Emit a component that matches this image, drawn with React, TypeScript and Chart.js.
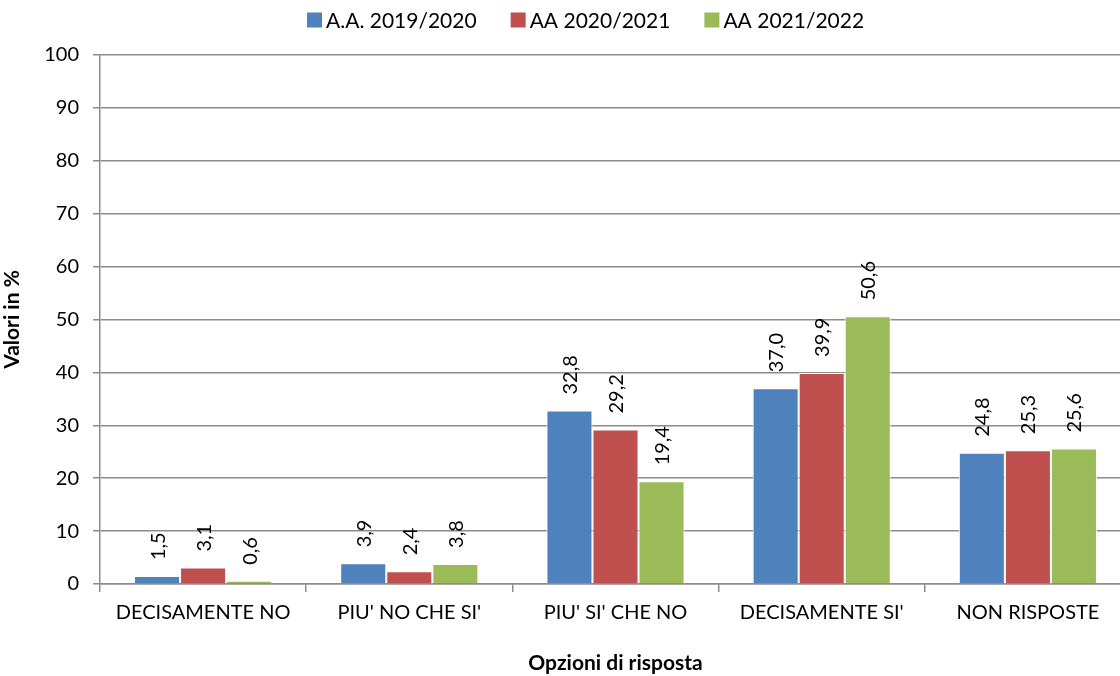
import React, { useEffect, useRef } from "react";
import { Chart, registerables } from "chart.js";

Chart.register(...registerables);

const categories = ["DECISAMENTE NO", "PIU' NO CHE SI'", "PIU' SI' CHE NO", "DECISAMENTE SI'", "NON RISPOSTE"];
const seriesNames = ["A.A. 2019/2020", "AA 2020/2021", "AA 2021/2022"];
const values2019 = [1.5, 3.9, 32.8, 37.0, 24.8];
const values2020 = [3.1, 2.4, 29.2, 39.9, 25.3];
const values2021 = [0.6, 3.8, 19.4, 50.6, 25.6];
const colors = ["#4F81BD", "#C0504D", "#9BBB59"];
const yTicks = [0, 10, 20, 30, 40, 50, 60, 70, 80, 90, 100];

const FONT = "Lato, 'Open Sans', sans-serif";

const labelPlugin = {
  id: "barLabels",
  afterDatasetsDraw(chart: any) {
    const ctx = chart.ctx;
    ctx.save();
    ctx.font = `20px ${FONT}`;
    ctx.fillStyle = "#000";
    ctx.textAlign = "left";
    ctx.textBaseline = "middle";
    chart.data.datasets.forEach((ds: any, i: number) => {
      const meta = chart.getDatasetMeta(i);
      meta.data.forEach((bar: any, j: number) => {
        const v = ds.data[j] as number;
        const txt = v.toFixed(1).replace(".", ",");
        ctx.save();
        ctx.translate(bar.x + 1, bar.y - 16);
        ctx.rotate(-Math.PI / 2);
        ctx.fillText(txt, 0, 0);
        ctx.restore();
      });
    });
    ctx.restore();
  },
};

const legendPlugin = {
  id: "customLegend",
  afterDraw(chart: any) {
    const ctx = chart.ctx;
    ctx.save();
    ctx.font = `21px ${FONT}`;
    ctx.textBaseline = "middle";
    ctx.textAlign = "left";
    const box = 15;
    const gapBoxText = 4;
    const gapItems = 34;
    const widths = seriesNames.map((n) => box + gapBoxText + ctx.measureText(n).width);
    let x = 307;
    const y = 20;
    seriesNames.forEach((n, i) => {
      ctx.fillStyle = colors[i];
      ctx.fillRect(x, y - box / 2, box, box);
      ctx.fillStyle = "#000";
      ctx.fillText(n, x + box + gapBoxText, y + 1);
      x += widths[i] + gapItems;
    });
    ctx.restore();
  },
};

export default function App() {
  const ref = useRef<HTMLCanvasElement | null>(null);
  useEffect(() => {
    if (!ref.current) return;
    const chart = new Chart(ref.current, {
      type: "bar",
      data: {
        labels: categories,
        datasets: [values2019, values2020, values2021].map((d, i) => ({
          label: seriesNames[i],
          data: d,
          backgroundColor: colors[i],
          borderColor: "#ffffff",
          borderWidth: 1,
          categoryPercentage: 0.67,
          barPercentage: 1,
        })),
      },
      options: {
        animation: false,
        responsive: false,
        maintainAspectRatio: false,
        layout: { padding: { top: 55, right: 9, bottom: 0, left: 0 } },
        plugins: {
          legend: { display: false },
          tooltip: { enabled: false },
        },
        scales: {
          x: {
            grid: {
              offset: true,
              drawOnChartArea: false,
              color: "#8c8c8c",
              tickLength: 8,
              lineWidth: 1.5,
            },
            border: { color: "#8c8c8c", width: 1.5 },
            ticks: { color: "#000", font: { size: 20, family: FONT }, padding: 9, maxRotation: 0, autoSkip: false },
            title: {
              display: true,
              text: "Opzioni di risposta",
              color: "#000",
              font: { size: 21, weight: "bold", family: FONT },
              padding: { top: 20, bottom: 0 },
            },
            afterFit(scale: any) {
              scale.height = 92;
            },
          },
          y: {
            min: 0,
            max: 100,
            afterBuildTicks(scale: any) {
              scale.ticks = yTicks.map((v) => ({ value: v }));
            },
            grid: { color: "#8c8c8c", tickLength: 7, lineWidth: 1.5 },
            border: { color: "#8c8c8c", width: 1.5 },
            ticks: { color: "#000", font: { size: 20, family: FONT }, padding: 14 },
            title: {
              display: true,
              text: "Valori in %",
              color: "#000",
              font: { size: 21, weight: "bold", family: FONT },
              padding: { top: 0, bottom: 8 },
            },
            afterFit(scale: any) {
              scale.width = 100;
            },
          },
        },
      },
      plugins: [labelPlugin, legendPlugin],
    } as any);
    return () => chart.destroy();
  }, []);
  return (
    <div style={{ position: "fixed", left: 0, top: 0, width: 1120, height: 676, overflow: "hidden", background: "#fff" }}>
      <canvas ref={ref} width={1140} height={676} style={{ width: 1140, height: 676, display: "block" }} />
    </div>
  );
}
